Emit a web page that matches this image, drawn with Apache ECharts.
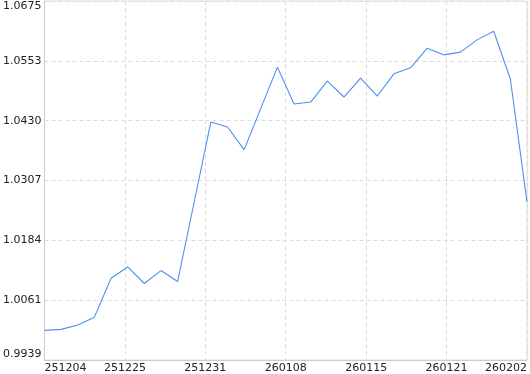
<!DOCTYPE html>
<html>
<head>
<meta charset="utf-8">
<script src="https://cdn.jsdelivr.net/npm/echarts@6/dist/echarts.min.js"></script>
<style>html,body{margin:0;padding:0;background:#fff}#c{width:530px;height:374px}</style>
</head>
<body>
<div id="c"></div>
<script>
var xLabels = ['251204', '251225', '251231', '260108', '260115', '260121', '260202'];
var yLabels = ['0.9939', '1.0061', '1.0184', '1.0307', '1.0430', '1.0553', '1.0675'];
var values = [
  0.99994, 1.00015, 1.00103, 1.00266, 1.01064, 1.01295, 1.00956, 1.01221, 1.00996, 1.02632,
  1.04268, 1.04166, 1.03702, 1.04547, 1.05393, 1.04636, 1.04677, 1.05107, 1.04780, 1.05168,
  1.04800, 1.05256, 1.05379, 1.05782, 1.05645, 1.05700, 1.05952, 1.06129, 1.05150, 1.02624
];

var chart = echarts.init(document.getElementById('c'), null, {renderer: 'canvas'});
var pts = values.map(function (v, i) { return [i, v]; });
chart.setOption({
  animation: false,
  backgroundColor: '#fff',
  grid: {left: 44, right: 2, top: 1, bottom: 13, show: true, borderColor: '#dcdcdc', borderWidth: 1, containLabel: false},
  xAxis: [{
    type: 'category',
    data: xLabels,
    boundaryGap: false,
    axisLine: {show: true, lineStyle: {color: '#cccccc'}},
    axisTick: {show: false},
    axisLabel: {color: '#222', fontSize: 11, fontFamily: 'DejaVu Sans', margin: 3, interval: 0,
      alignMinLabel: 'left', alignMaxLabel: 'right'},
    splitLine: {show: true, lineStyle: {color: '#dcdcdc', type: [4, 3]}}
  }, {
    type: 'value',
    min: 0,
    max: values.length - 1,
    show: false
  }],
  yAxis: {
    type: 'value',
    min: 0.99387,
    max: 1.06749,
    interval: 0.01227,
    axisLine: {show: true, lineStyle: {color: '#cccccc'}},
    axisTick: {show: false},
    axisLabel: {color: '#222', fontSize: 11, fontFamily: 'DejaVu Sans', margin: 3,
      verticalAlignMinLabel: 'bottom', verticalAlignMaxLabel: 'top',
      formatter: function (v, i) { return yLabels[i]; }},
    splitLine: {show: true, lineStyle: {color: '#dcdcdc', type: [4, 3]}}
  },
  series: [{
    type: 'line',
    xAxisIndex: 1,
    data: pts,
    showSymbol: false,
    symbol: 'none',
    lineStyle: {color: '#4f8fee', width: 1.1},
    itemStyle: {color: '#4f8fee'}
  }]
});
</script>
</body>
</html>
